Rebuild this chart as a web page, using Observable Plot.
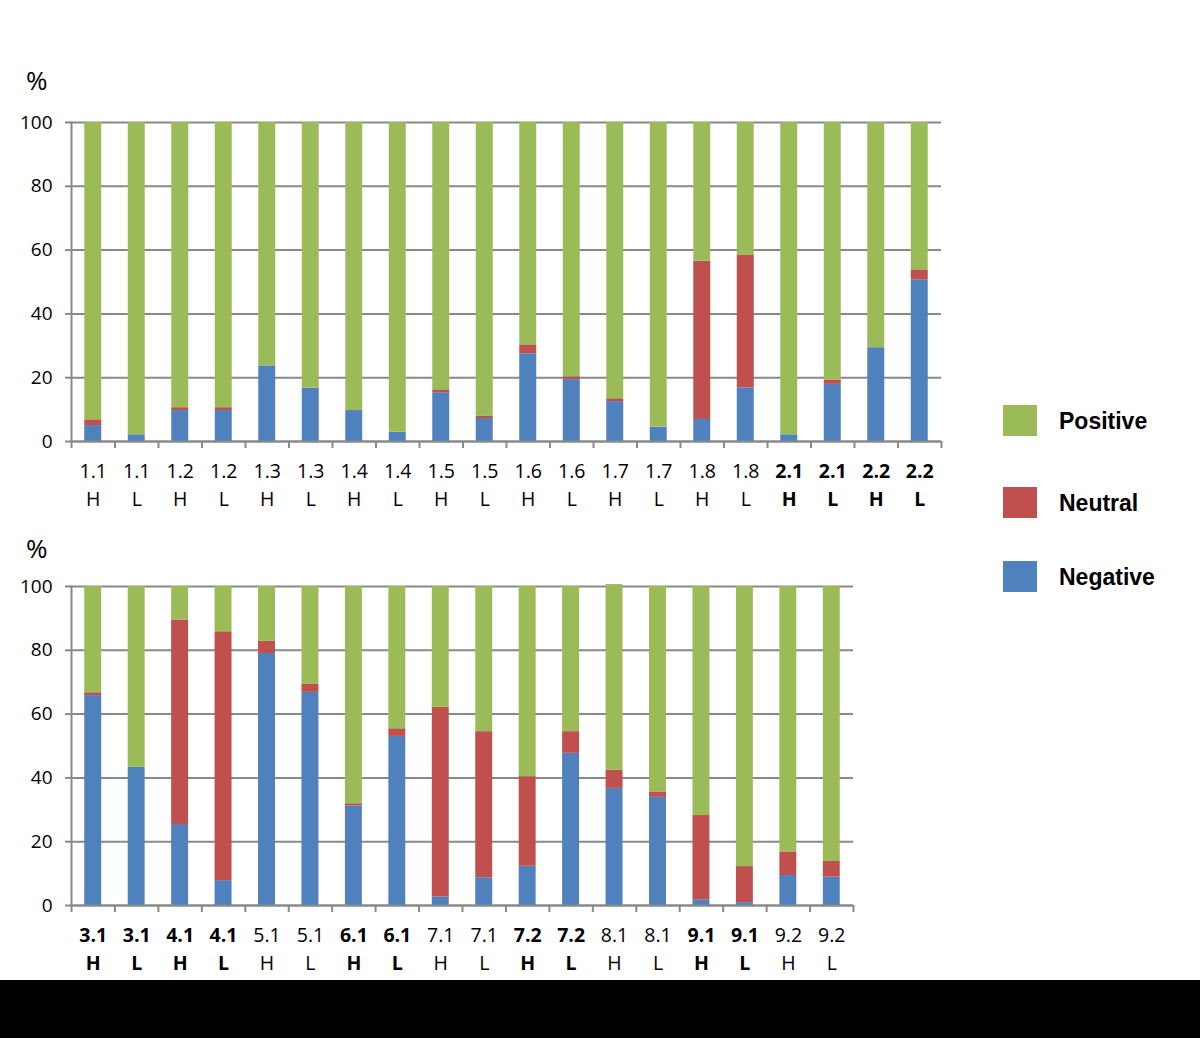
<!DOCTYPE html>
<html><head><meta charset="utf-8">
<script src="https://cdn.jsdelivr.net/npm/d3@7"></script>
<script src="https://cdn.jsdelivr.net/npm/@observablehq/plot@0.6"></script>
<style>
body{margin:0;background:#fff;width:1200px;height:1038px;position:relative;overflow:hidden;font-family:"Open Sans",sans-serif;}
.abs{position:absolute;}
.pct{font-size:26px;color:#000;}
.sw{position:absolute;width:34px;height:31px;}
.lt{position:absolute;font-family:"Liberation Sans",Arial,sans-serif;font-weight:bold;font-size:23px;color:#000;line-height:27px;}
</style></head><body>
<div id="top" class="abs" style="left:0;top:0"></div>
<div id="bot" class="abs" style="left:0;top:520px"></div>
<div class="abs pct" style="left:26px;top:62px">%</div>
<div class="abs pct" style="left:26px;top:530px">%</div>
<div id="legend"></div>
<div class="abs" style="left:0;top:980px;width:1200px;height:58px;background:#000"></div>
<script>
const seriesNames = ["Negative","Neutral","Positive"];
const seriesColors = ["#4F81BD","#C0504D","#9BBB59"];

const topCodes = ["1.1","1.1","1.2","1.2","1.3","1.3","1.4","1.4","1.5","1.5","1.6","1.6","1.7","1.7","1.8","1.8","2.1","2.1","2.2","2.2"];
const topHL    = ["H","L","H","L","H","L","H","L","H","L","H","L","H","L","H","L","H","L","H","L"];
const topNeg   = [5.0,2.1,9.7,9.7,23.7,16.7,9.7,2.9,15.3,7.2,27.5,19.4,12.5,4.5,6.9,16.8,2.1,17.9,29.4,50.7];
const topNeu   = [1.8,0,0.9,0.9,0,0,0,0,0.9,0.8,2.8,0.9,0.9,0,49.6,41.5,0,1.4,0,3.1];
const topPos   = [93.2,97.9,89.4,89.4,76.3,83.3,90.3,97.1,83.8,92.0,69.7,79.7,86.6,95.5,43.5,41.7,97.9,80.7,70.6,46.2];
const topBold  = ["2.1","2.2"];

const botCodes = ["3.1","3.1","4.1","4.1","5.1","5.1","6.1","6.1","7.1","7.1","7.2","7.2","8.1","8.1","9.1","9.1","9.2","9.2"];
const botHL    = ["H","L","H","L","H","L","H","L","H","L","H","L","H","L","H","L","H","L"];
const botNeg   = [65.8,43.3,25.4,7.8,79.0,66.8,31.2,53.0,2.7,8.7,12.3,47.7,36.7,33.9,1.8,0.9,9.4,8.9];
const botNeu   = [0.9,0,64.1,78.0,3.8,2.5,0.7,2.4,59.4,45.8,28.1,6.8,5.7,1.7,26.4,11.3,7.4,4.9];
const botPos   = [33.3,56.7,10.5,14.2,17.2,30.7,68.1,44.6,37.9,45.5,59.6,45.5,58.2,64.4,71.8,87.8,83.2,86.2];
const botBold  = ["3.1","4.1","6.1","7.2","9.1"];

const yTicks = [0,20,40,60,80,100];
const grey = "#898989";

function makeChart(codes, hl, neg, neu, pos, bold, opts) {
  const keys = codes.map((c,i) => c + "|" + hl[i]);
  const rows = [];
  keys.forEach((k,i) => {
    rows.push({key:k, type:"Negative", value:neg[i]});
    rows.push({key:k, type:"Neutral", value:neu[i]});
    rows.push({key:k, type:"Positive", value:pos[i]});
  });
  const boldKeys = keys.filter(k => bold.includes(k.split("|")[0]));
  const normKeys = keys.filter(k => !bold.includes(k.split("|")[0]));
  const step = (opts.width - opts.marginLeft - opts.marginRight) / keys.length;
  const fmt = k => k.split("|").join("\n");
  const axisOpts = {tickSize:0, tickPadding:opts.tickPadding, tickFormat:fmt, fontSize:19.5, lineHeight:1.45, fill:"#000", label:null};
  return Plot.plot({
    width: opts.width, height: opts.height,
    marginLeft: opts.marginLeft, marginRight: opts.marginRight,
    marginTop: opts.marginTop, marginBottom: opts.marginBottom,
    style: {fontFamily:'"Open Sans",sans-serif', fontSize:"19px", color:"#000", background:"transparent", overflow:"visible"},
    x: {domain: keys, paddingInner: 0.61, paddingOuter: 0.305, round: false, axis: null},
    y: {domain: [0,100], axis: null},
    color: {domain: seriesNames, range: seriesColors},
    marks: [
      Plot.gridY(yTicks, {stroke: grey, strokeOpacity: 1, strokeWidth: 2}),
      Plot.barY(rows, {x:"key", y:"value", fill:"type", order: seriesNames}),
      Plot.ruleY([0], {stroke: grey, strokeWidth: 2}),
      Plot.frame({anchor:"left", stroke: grey, strokeWidth: 2}),
      Plot.axisY(yTicks, {tickSize: 6, tickPadding: 13, stroke: grey, strokeWidth: 2, fontSize: 19, fill:"#000", label:null}),
      Plot.ruleX(keys, {x: d => d, dx: -step/2, y1: 0, y2: -2.2, stroke: grey, strokeWidth: 2}),
      Plot.ruleX([keys[keys.length-1]], {x: d => d, dx: step/2, y1: 0, y2: -2.2, stroke: grey, strokeWidth: 2}),
      Plot.axisX(normKeys, {...axisOpts, fontWeight: "normal"}),
      Plot.axisX(boldKeys, {...axisOpts, fontWeight: "bold"})
    ]
  });
}

document.getElementById("top").appendChild(makeChart(topCodes, topHL, topNeg, topNeu, topPos, topBold,
  {width:960, height:520, marginLeft:71, marginRight:19, marginTop:122, marginBottom:79, tickPadding:16}));
document.getElementById("bot").appendChild(makeChart(botCodes, botHL, botNeg, botNeu, botPos, botBold,
  {width:870, height:460, marginLeft:71, marginRight:17, marginTop:66, marginBottom:75, tickPadding:16}));

const legendTops = [405, 487, 561];
const legendOrder = ["Positive","Neutral","Negative"];
const lg = document.getElementById("legend");
legendOrder.forEach((name,i) => {
  const sw = document.createElement("div");
  sw.className = "sw";
  sw.style.left = "1003px";
  sw.style.top = legendTops[i] + "px";
  sw.style.background = seriesColors[seriesNames.indexOf(name)];
  lg.appendChild(sw);
  const t = document.createElement("div");
  t.className = "lt";
  t.style.left = "1059px";
  t.style.top = (legendTops[i] + 3) + "px";
  t.textContent = name;
  lg.appendChild(t);
});
</script>
</body></html>
